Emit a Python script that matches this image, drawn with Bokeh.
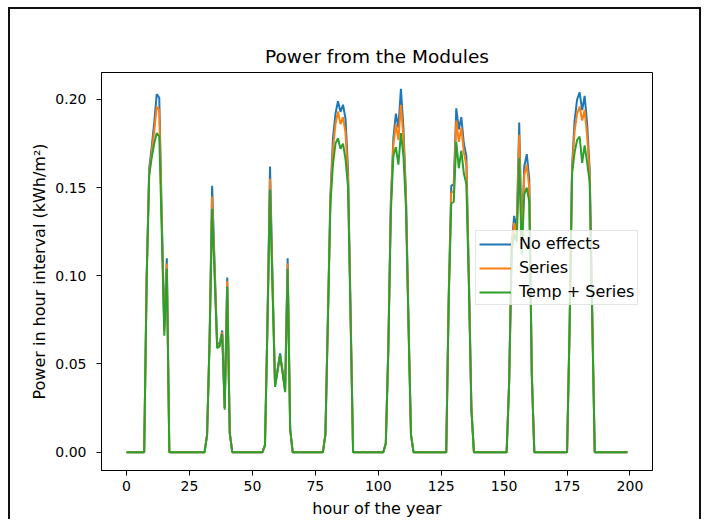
from bokeh.plotting import figure
from bokeh.models import ColumnDataSource, Range1d, FixedTicker
from bokeh.embed import file_html
from bokeh.resources import INLINE

# ---------------- data ----------------
hours = list(range(200))

no_effects = (
    [0.0] * 8
    + [0.100, 0.161, 0.173, 0.187, 0.203, 0.201, 0.133, 0.071, 0.110]
    + [0.0] * 15
    + [0.010, 0.065, 0.151, 0.106, 0.061, 0.062, 0.069, 0.025, 0.099, 0.011]
    + [0.0] * 13
    + [0.004, 0.075, 0.162, 0.098, 0.038, 0.047, 0.056, 0.046, 0.035, 0.110, 0.013]
    + [0.0] * 13
    + [0.010, 0.077, 0.146, 0.178, 0.192, 0.199, 0.193, 0.197, 0.189, 0.160, 0.080]
    + [0.0] * 13
    + [0.005, 0.060, 0.142, 0.178, 0.192, 0.184, 0.206, 0.184, 0.147, 0.076, 0.010]
    + [0.0] * 14
    + [0.090, 0.151, 0.152, 0.195, 0.183, 0.190, 0.175, 0.168, 0.100, 0.025]
    + [0.0] * 14
    + [0.040, 0.118, 0.134, 0.127, 0.187, 0.120, 0.162, 0.169, 0.155, 0.045]
    + [0.0] * 14
    + [0.070, 0.162, 0.188, 0.200, 0.204, 0.194, 0.202, 0.186, 0.160, 0.080]
    + [0.0] * 14
)

series = (
    [0.0] * 8
    + [0.099, 0.159, 0.170, 0.182, 0.196, 0.194, 0.130, 0.069, 0.107]
    + [0.0] * 15
    + [0.010, 0.064, 0.145, 0.103, 0.060, 0.061, 0.068, 0.025, 0.097, 0.011]
    + [0.0] * 13
    + [0.004, 0.074, 0.155, 0.095, 0.038, 0.046, 0.055, 0.045, 0.035, 0.107, 0.013]
    + [0.0] * 13
    + [0.010, 0.076, 0.144, 0.172, 0.186, 0.193, 0.186, 0.190, 0.181, 0.155, 0.078]
    + [0.0] * 13
    + [0.005, 0.059, 0.140, 0.174, 0.186, 0.177, 0.197, 0.178, 0.144, 0.074, 0.010]
    + [0.0] * 14
    + [0.088, 0.147, 0.148, 0.188, 0.176, 0.184, 0.170, 0.163, 0.098, 0.025]
    + [0.0] * 14
    + [0.040, 0.116, 0.130, 0.124, 0.180, 0.117, 0.157, 0.163, 0.150, 0.044]
    + [0.0] * 14
    + [0.069, 0.160, 0.182, 0.192, 0.196, 0.188, 0.194, 0.179, 0.157, 0.078]
    + [0.0] * 14
)

temp_series = (
    [0.0] * 8
    + [0.098, 0.157, 0.167, 0.175, 0.181, 0.179, 0.125, 0.066, 0.104]
    + [0.0] * 15
    + [0.010, 0.063, 0.138, 0.099, 0.059, 0.060, 0.067, 0.024, 0.094, 0.011]
    + [0.0] * 13
    + [0.004, 0.073, 0.149, 0.092, 0.037, 0.046, 0.055, 0.045, 0.034, 0.104, 0.013]
    + [0.0] * 13
    + [0.010, 0.075, 0.141, 0.163, 0.175, 0.178, 0.172, 0.175, 0.166, 0.150, 0.076]
    + [0.0] * 13
    + [0.005, 0.058, 0.136, 0.168, 0.173, 0.163, 0.181, 0.168, 0.139, 0.072, 0.010]
    + [0.0] * 14
    + [0.086, 0.141, 0.142, 0.176, 0.161, 0.171, 0.158, 0.152, 0.094, 0.024]
    + [0.0] * 14
    + [0.039, 0.114, 0.124, 0.119, 0.167, 0.112, 0.146, 0.150, 0.142, 0.043]
    + [0.0] * 14
    + [0.068, 0.158, 0.170, 0.177, 0.179, 0.164, 0.174, 0.164, 0.153, 0.075]
    + [0.0] * 14
)

series_names = ["No effects", "Series", "Temp + Series"]
series_colors = ["#1f77b4", "#ff7f0e", "#2ca02c"]

x_ticks = [0, 25, 50, 75, 100, 125, 150, 175, 200]
y_ticks = [0.0, 0.05, 0.10, 0.15, 0.20]
y_tick_labels = ["0.00", "0.05", "0.10", "0.15", "0.20"]

title_text = "Power from the Modules"
x_label = "hour of the year"
y_label = "Power in hour interval (kWh/m\u00b2)"

# ---------------- figure ----------------
FONT = "DejaVu Sans"

p = figure(
    width=693,
    height=512,
    output_backend="svg",
    toolbar_location=None,
    x_range=Range1d(-9.95, 208.95),
    y_range=Range1d(-0.0104, 0.2153),
    min_border_left=91,
    min_border_right=51,
    min_border_top=63,
    min_border_bottom=51,
)
p.styles = {
    "margin-left": "8px",
    "margin-top": "7px",
    "border-top": "2px solid #111111",
    "border-left": "2px solid #111111",
    "border-right": "2px solid #111111",
}

p.title.text = title_text
p.title.text_font = FONT
p.title.text_font_size = "18.5px"
p.title.text_font_style = "normal"
p.title.align = "center"
p.title.text_color = "#000000"
p.title.standoff = 12

p.xgrid.visible = False
p.ygrid.visible = False
p.outline_line_color = "#000000"
p.outline_line_width = 1
p.outline_line_alpha = 1.0

for ax in (p.xaxis[0], p.yaxis[0]):
    ax.axis_line_color = "#000000"
    ax.major_tick_line_color = "#000000"
    ax.major_tick_out = 5
    ax.major_tick_in = 0
    ax.minor_tick_line_color = None
    ax.major_label_text_font = FONT
    ax.major_label_text_font_size = "14px"
    ax.major_label_text_color = "#000000"
    ax.axis_label_text_font = FONT
    ax.axis_label_text_font_size = "16px"
    ax.axis_label_text_font_style = "normal"
    ax.axis_label_text_color = "#000000"

p.xaxis.ticker = FixedTicker(ticks=x_ticks)
p.yaxis.ticker = FixedTicker(ticks=y_ticks)
p.yaxis.major_label_overrides = {t: l for t, l in zip(y_ticks, y_tick_labels)}
p.xaxis.axis_label = x_label
p.yaxis.axis_label = y_label
p.xaxis.major_label_standoff = 5
p.yaxis.major_label_standoff = 10
p.xaxis.axis_label_standoff = 5
p.yaxis.axis_label_standoff = 3

src = ColumnDataSource(dict(h=hours, a=no_effects, b=series, c=temp_series))
for col, name, color in zip(["a", "b", "c"], series_names, series_colors):
    p.line("h", col, source=src, line_color=color, line_width=2, legend_label=name)

lg = p.legend[0]
lg.location = (374, 165)
lg.label_text_font = FONT
lg.label_text_font_size = "16px"
lg.label_text_color = "#000000"
lg.glyph_width = 32
lg.glyph_height = 18
lg.label_height = 18
lg.label_standoff = 8
lg.spacing = 5
lg.padding = 3
lg.margin = 0
lg.border_line_color = "#cccccc"
lg.border_line_width = 1
lg.background_fill_color = "#ffffff"
lg.background_fill_alpha = 0.8

open("out.html", "w").write(file_html(p, INLINE))
